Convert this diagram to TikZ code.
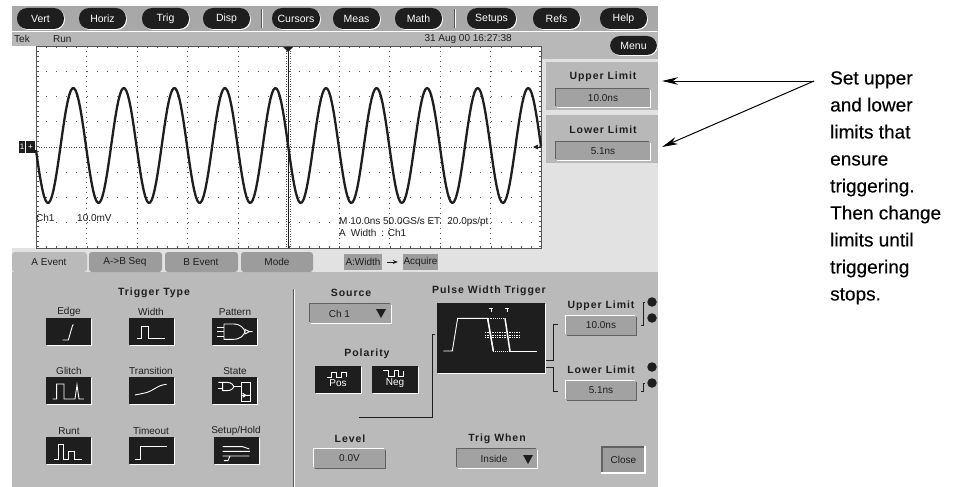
\documentclass[tikz,border=0pt]{standalone}
\usepackage{fontspec}
\setmainfont{Liberation Sans}
\newfontfamily\spacedbold[LetterSpace=9]{Liberation Sans Bold}
\newfontfamily\notefont[FakeBold=0.3]{Liberation Sans}
\usetikzlibrary{arrows.meta}
\definecolor{barA}{HTML}{A8A8A8}
\definecolor{barB}{HTML}{B8B8B8}
\definecolor{pale}{HTML}{E2E2E2}
\definecolor{panel}{HTML}{BABABA}
\definecolor{field}{HTML}{A2A2A2}
\definecolor{tabdark}{HTML}{9C9C9C}
\definecolor{ink}{HTML}{1E1E1E}
\definecolor{griddot}{HTML}{555555}
\tikzset{
  ui/.style={font=\fontsize{10}{12}\selectfont,text=ink,inner sep=0pt},
  uibold/.style={font=\fontsize{10.5}{12}\spacedbold,text=ink,inner sep=0pt},
  pill/.style={fill=ink,text=white,rounded corners=10pt,inner sep=0pt,font=\fontsize{10.5}{12}\selectfont,
    preaction={fill=white,transform canvas={xshift=.9pt,yshift=-.9pt}}},
  sunk/.style={fill=field,text=ink,inner sep=0pt,font=\fontsize{10}{12}\selectfont,
    preaction={fill=white,transform canvas={xshift=1pt,yshift=-1pt}},
    preaction={fill=ink!70,transform canvas={xshift=-1pt,yshift=1pt}}},
  raised/.style={fill=field,text=ink,inner sep=0pt,font=\fontsize{10}{12}\selectfont,
    preaction={fill=ink!70,transform canvas={xshift=1pt,yshift=-1pt}},
    preaction={fill=white,transform canvas={xshift=-1pt,yshift=1pt}}},
  icon/.style={fill=ink,inner sep=0pt,text=white,font=\fontsize{10}{10}\selectfont,align=center,
    preaction={fill=white,transform canvas={xshift=.8pt,yshift=-.9pt}}},
  tabbox/.style={fill=tabdark,text=ink,inner sep=0pt,font=\fontsize{10}{12}\selectfont},
  glyph/.style={draw=white,line width=.9pt},
  vgrid/.style={draw=griddot,line width=.8pt,dash pattern=on .8pt off 4.25pt},
  hgrid/.style={draw=griddot,line width=.8pt,dash pattern=on .8pt off 9.3pt},
  conn/.style={draw=ink,line width=1pt},
  callout/.style={draw=black,line width=1pt,-{Stealth[length=16pt,width=7.5pt]}},
  knob/.style={circle,fill=ink,minimum size=9.5pt,inner sep=0pt}
}
% name x1 y1 x2 y2 style text
\newcommand{\uibox}[7]{%
  \pgfmathsetmacro{\bw}{#4-#2}\pgfmathsetmacro{\bh}{#5-#3}%
  \pgfmathsetmacro{\bx}{(#2+#4)/2}\pgfmathsetmacro{\by}{(#3+#5)/2}%
  \node[#6,minimum width=\bw pt,minimum height=\bh pt] (#1) at (\bx,\by) {#7};}
\begin{document}
\begin{tikzpicture}[x=1pt,y=-1pt]
\useasboundingbox (0,0) rectangle (958,487);
% backgrounds
\fill[barA] (12,6) rectangle (658,31);
\fill[barB] (12,32) rectangle (658,46);
\fill[barB] (541,46) rectangle (658,59);
\fill[pale] (541,59) rectangle (658,250);
\fill[barB] (546,62) rectangle (658,110);
\fill[barB] (546,115) rectangle (658,163);
\fill[pale] (12,248) rectangle (658,272);
\fill[panel] (12,272) rectangle (658,487);
% top buttons
\foreach \t/\a/\b in {Vert/17/64,Horiz/79/126,Trig/142/189,Disp/203/250,Cursors/272/320,Meas/333/380,Math/395/442,Setups/467/516,Refs/533/580,Help/600/647}{
  \uibox{btn\t}{\a}{8}{\b}{29}{pill}{\t}
}
\draw[white,line width=.8pt] (262,9) -- (262,28) (455,9) -- (455,28);
\draw[griddot,line width=.8pt] (261,9) -- (261,28) (454,9) -- (454,28);
\uibox{btnMenu}{610}{36}{657}{55}{pill}{Menu}
\node[ui,anchor=west] (tek) at (14,39) {Tek};
\node[ui,anchor=west] (run) at (53,39) {Run};
\node[ui,anchor=east] (date) at (512,39) {31 Aug 00 16:27:38};
% scope graticule
\fill[white] (36,46) rectangle (541,248);
\foreach \i in {1,...,9}{
  \draw[vgrid] ({36+50.5*\i},46) -- ({36+50.5*\i},248);
}
\foreach \i in {1,2,3,5,6,7}{
  \draw[hgrid] (36,{46+25.25*\i}) -- (541,{46+25.25*\i});
}
\draw[griddot,line width=.9pt,dash pattern=on 1pt off 1.5pt] (36,147) -- (541,147);
\draw[griddot,line width=.8pt,dash pattern=on 1pt off 1.5pt] (286,46) -- (286,248) (290,46) -- (290,248);
\draw[ink,line width=1pt] (288,46) -- (288,248);
\draw[griddot,line width=.9pt] (36,46) -- (541,46) (36,46) -- (36,248) -- (541,248) -- (541,46);
\draw[griddot,line width=2pt,dash pattern=on 1pt off 9.1pt] (36,47.5) -- (541,47.5) (36,246.5) -- (541,246.5);
\draw[griddot,line width=2pt,dash pattern=on 1pt off 4pt] (37.5,46) -- (37.5,248) (539.5,46) -- (539.5,248);
% waveform
\draw[ink,line width=2.3pt,line join=round] plot[domain=36:541,samples=320] (\x,{145.5+57.5*cos(7.1216*(\x-48))});
% scope markers
\fill[ink] (283,47) -- (293,47) -- (288,52) -- cycle;
\fill[ink] (533,147) -- (538,144.5) -- (538,149.5) -- cycle;
\draw[ink,line width=1pt] (536,147) -- (541,147);
\uibox{chmark}{19}{141}{25}{153}{fill=ink,text=white,inner sep=0pt,font=\fontsize{8}{8}\selectfont}{1}
\uibox{chgnd}{26}{141}{35}{153}{fill=ink,text=white,inner sep=0pt,font=\fontsize{8}{8}\selectfont}{+}
\node[ui,anchor=west] (ch1) at (36,218) {Ch1};
\node[ui,anchor=west] (mv) at (77,218) {10.0mV};
\node[ui,anchor=west] (hz) at (339,222) {M 10.0ns 50.0GS/s  ET\hspace{7pt}20.0ps/pt};
\node[ui,anchor=west] (aw) at (339,233) {A\hspace{5pt}Width\hspace{5pt}: Ch1};
% side limits
\node[uibold] (uplabel) at (603,77) {Upper Limit};
\uibox{upval}{556}{89}{650}{107}{sunk}{10.0ns}
\node[uibold] (lolabel) at (603,130) {Lower Limit};
\uibox{loval}{556}{142}{650}{160}{sunk}{5.1ns}
% callout
\coordinate (join) at (814,81);
\coordinate (upend) at (662,81);
\coordinate (loend) at (662,147);
\draw[callout] (join) -- (upend);
\draw[callout] (join) -- (loend);
\node[anchor=north west,align=left,inner sep=0pt,text=black,font=\fontsize{19}{27}\notefont] (note) at (830,71) {Set upper\\and lower\\limits that\\ensure\\triggering.\\Then change\\limits until\\triggering\\stops.};
% tabs
\fill[panel,rounded corners=3pt] (12,272) -- (12,252) -- (87,252) -- (87,272) -- cycle;
\fill[tabdark,rounded corners=3pt] (89,272) -- (89,252) -- (162,252) -- (162,272) -- cycle;
\fill[tabdark,rounded corners=3pt] (165,272) -- (165,252) -- (238,252) -- (238,272) -- cycle;
\fill[tabdark,rounded corners=3pt] (241,272) -- (241,252) -- (313,252) -- (313,272) -- cycle;
\node[ui] (tabA) at (49,262) {A Event};
\node[ui] (tabS) at (125,262) {A->B Seq};
\node[ui] (tabB) at (201,262) {B Event};
\node[ui] (tabM) at (277,262) {Mode};
\uibox{seqA}{344}{254}{382}{270}{tabbox}{A:Width}
\uibox{seqB}{403}{254}{438}{270}{tabbox}{Acquire}
\draw[ink,line width=.9pt,shorten <=5pt,shorten >=5pt,-{Stealth[length=5pt,width=4pt]}] (seqA) -- (seqB);
\draw[white,line width=1pt] (294,289) -- (294,487);
\draw[griddot,line width=.7pt] (293,289) -- (293,487);
% trigger type
\node[uibold] (ttype) at (154,293) {Trigger Type};
\node[ui] (lEdge) at (69,312) {Edge};
\node[ui] (lWidth) at (151,312) {Width};
\node[ui] (lPattern) at (235,312) {Pattern};
\node[ui] (lGlitch) at (69,371) {Glitch};
\node[ui] (lTrans) at (151,371) {Transition};
\node[ui] (lState) at (235,371) {State};
\node[ui] (lRunt) at (69,431) {Runt};
\node[ui] (lTime) at (151,431) {Timeout};
\node[ui] (lSetup) at (236,431) {Setup/Hold};
\uibox{iEdge}{46}{318}{91}{345}{icon}{}
\uibox{iWidth}{129}{318}{174}{345}{icon}{}
\uibox{iPattern}{212}{318}{257}{345}{icon}{}
\uibox{iGlitch}{46}{377}{91}{404}{icon}{}
\uibox{iTrans}{129}{377}{174}{404}{icon}{}
\uibox{iState}{212}{377}{257}{404}{icon}{}
\uibox{iRunt}{46}{437}{91}{464}{icon}{}
\uibox{iTime}{129}{437}{174}{464}{icon}{}
\uibox{iSetup}{214}{437}{259}{464}{icon}{}
\begin{scope}[shift={(0,250)},x=.3333pt,y=-.3333pt]
\draw[glyph] (188,270) -- (205,270) -- (218,225) -- (222,225);
\draw[glyph] (412,266) -- (424,266) -- (424,228) -- (445,228) -- (445,266) -- (495,266);
\draw[glyph] (672,222) -- (700,222) .. controls (722,222) and (732,235) .. (735,245) .. controls (732,255) and (722,268) .. (700,268) -- (672,268) -- (672,222);
\draw[glyph] (735,238) -- (748,245) -- (735,252) -- cycle (748,245) -- (758,245);
\draw[glyph] (652,232) -- (672,232) (652,245) -- (672,245) (652,258) -- (672,258);
\draw[glyph] (158,447) -- (170,447) -- (170,402) -- (192,402) -- (192,447) -- (225,447) -- (231,405) -- (237,447) -- (252,447);
\draw[glyph] (405,435) -- (430,430) .. controls (460,425) and (470,405) .. (500,403);
\draw[glyph] (655,397) -- (680,397) .. controls (695,397) and (700,405) .. (702,410) .. controls (700,415) and (695,422) .. (680,422) -- (668,422) -- (668,397);
\draw[glyph] (655,415) -- (668,415) (702,410) -- (725,410) (725,397) -- (752,397) -- (752,455) -- (725,455) -- (725,397);
\draw[glyph] (725,436) -- (738,436) (728,430) -- (738,436) -- (728,442) (738,436) -- (752,436);
\draw[glyph] (163,627) -- (176,627) -- (176,582) -- (190,582) -- (190,627) -- (204,627) -- (204,605) -- (222,605) -- (222,627) -- (246,627);
\draw[glyph] (405,628) -- (420,628) -- (420,590) -- (500,590);
\draw[glyph] (668,590) -- (728,590) -- (748,597) (668,604) -- (750,604) (668,618) -- (748,618) (672,632) -- (684,632) -- (690,618);
\end{scope}
% source and polarity
\node[uibold] (lSource) at (351,293) {Source};
\uibox{srcbox}{310}{304}{391}{323}{sunk}{\hspace{-22pt}Ch 1}
\fill[ink] (376,309) -- (386,309) -- (381,318) -- cycle;
\node[uibold] (lPol) at (367,354) {Polarity};
\uibox{pPos}{315}{366}{361}{393}{icon}{\\[5pt]Pos}
\uibox{pNeg}{372}{366}{418}{393}{icon}{\\[5pt]Neg}
\begin{scope}[shift={(290,250)},x=.3333pt,y=-.3333pt]
\draw[glyph] (112,382) -- (125,382) -- (125,368) -- (138,368) -- (138,382) -- (155,382) -- (155,368) -- (168,368) -- (168,382);
\draw[glyph] (280,362) -- (296,362) -- (296,378) -- (312,378) -- (312,362) -- (325,362) -- (325,378) -- (340,378) -- (340,362);
\end{scope}
% pulse width trigger
\node[uibold] (lPulse) at (489,291) {Pulse Width Trigger};
\uibox{scopebox}{437}{303}{545}{373}{icon}{}
\begin{scope}[shift={(290,250)},x=.3333pt,y=-.3333pt]
\draw[glyph] (460,303) -- (487,303) -- (503,205) -- (593,205) -- (610,303);
\draw[glyph,line width=1.5pt] (593,205) -- (610,303) (645,205) -- (660,303);
\draw[glyph] (660,303) -- (742,303);
\draw[glyph,densely dotted] (593,205) -- (645,205) (610,303) -- (660,303);
\draw[glyph,line width=.7pt,densely dotted] (585,248) -- (692,248) (585,255) -- (692,255) (585,262) -- (692,262);
\draw[glyph] (597,174) -- (609,174) (603,174) -- (603,186) (646,174) -- (658,174) (652,174) -- (652,186);
\end{scope}
\node[uibold] (lUp) at (601,306) {Upper Limit};
\uibox{upbox}{566}{316}{636}{335}{raised}{10.0ns}
\node[uibold] (lLo) at (601,370) {Lower Limit};
\uibox{lobox}{566}{381}{636}{400}{raised}{5.1ns}
\node[knob] (k1) at (652,302) {};
\node[knob] (k2) at (652,318) {};
\node[knob] (k3) at (652,367) {};
\node[knob] (k4) at (652,383) {};
\draw[conn] (k1.west) ++(-2,0) -- ++(-2,0) -- ++(0,23) -- ++(-2,0);
\draw[conn] (k4.west) ++(-2,0) -- ++(-2,0) -- ++(0,8) -- ++(-2,0);
\draw[conn] (546,360.5) -- (553,360.5) -- (553,324.5) -- (558,324.5);
\draw[conn] (546,367) -- (553,367) -- (553,391) -- (558,391);
\draw[conn] (359,418) -- (359,417) -- (432,417) -- (432,334) -- (435,334);
% level etc
\node[uibold] (lLevel) at (350,439) {Level};
\uibox{levbox}{314}{449}{385}{468}{raised}{0.0V}
\node[uibold] (lTrig) at (497,439) {Trig When};
\uibox{trigbox}{457}{449}{537}{468}{sunk}{\hspace{-6pt}Inside}
\fill[ink] (523,455) -- (533,455) -- (528,464) -- cycle;
\fill[white] (601,446) rectangle (646,474);
\fill[ink!70] (601,446) rectangle (644,472);
\uibox{closebtn}{603}{448}{644}{472}{tabbox}{Close}
\end{tikzpicture}
\end{document}
